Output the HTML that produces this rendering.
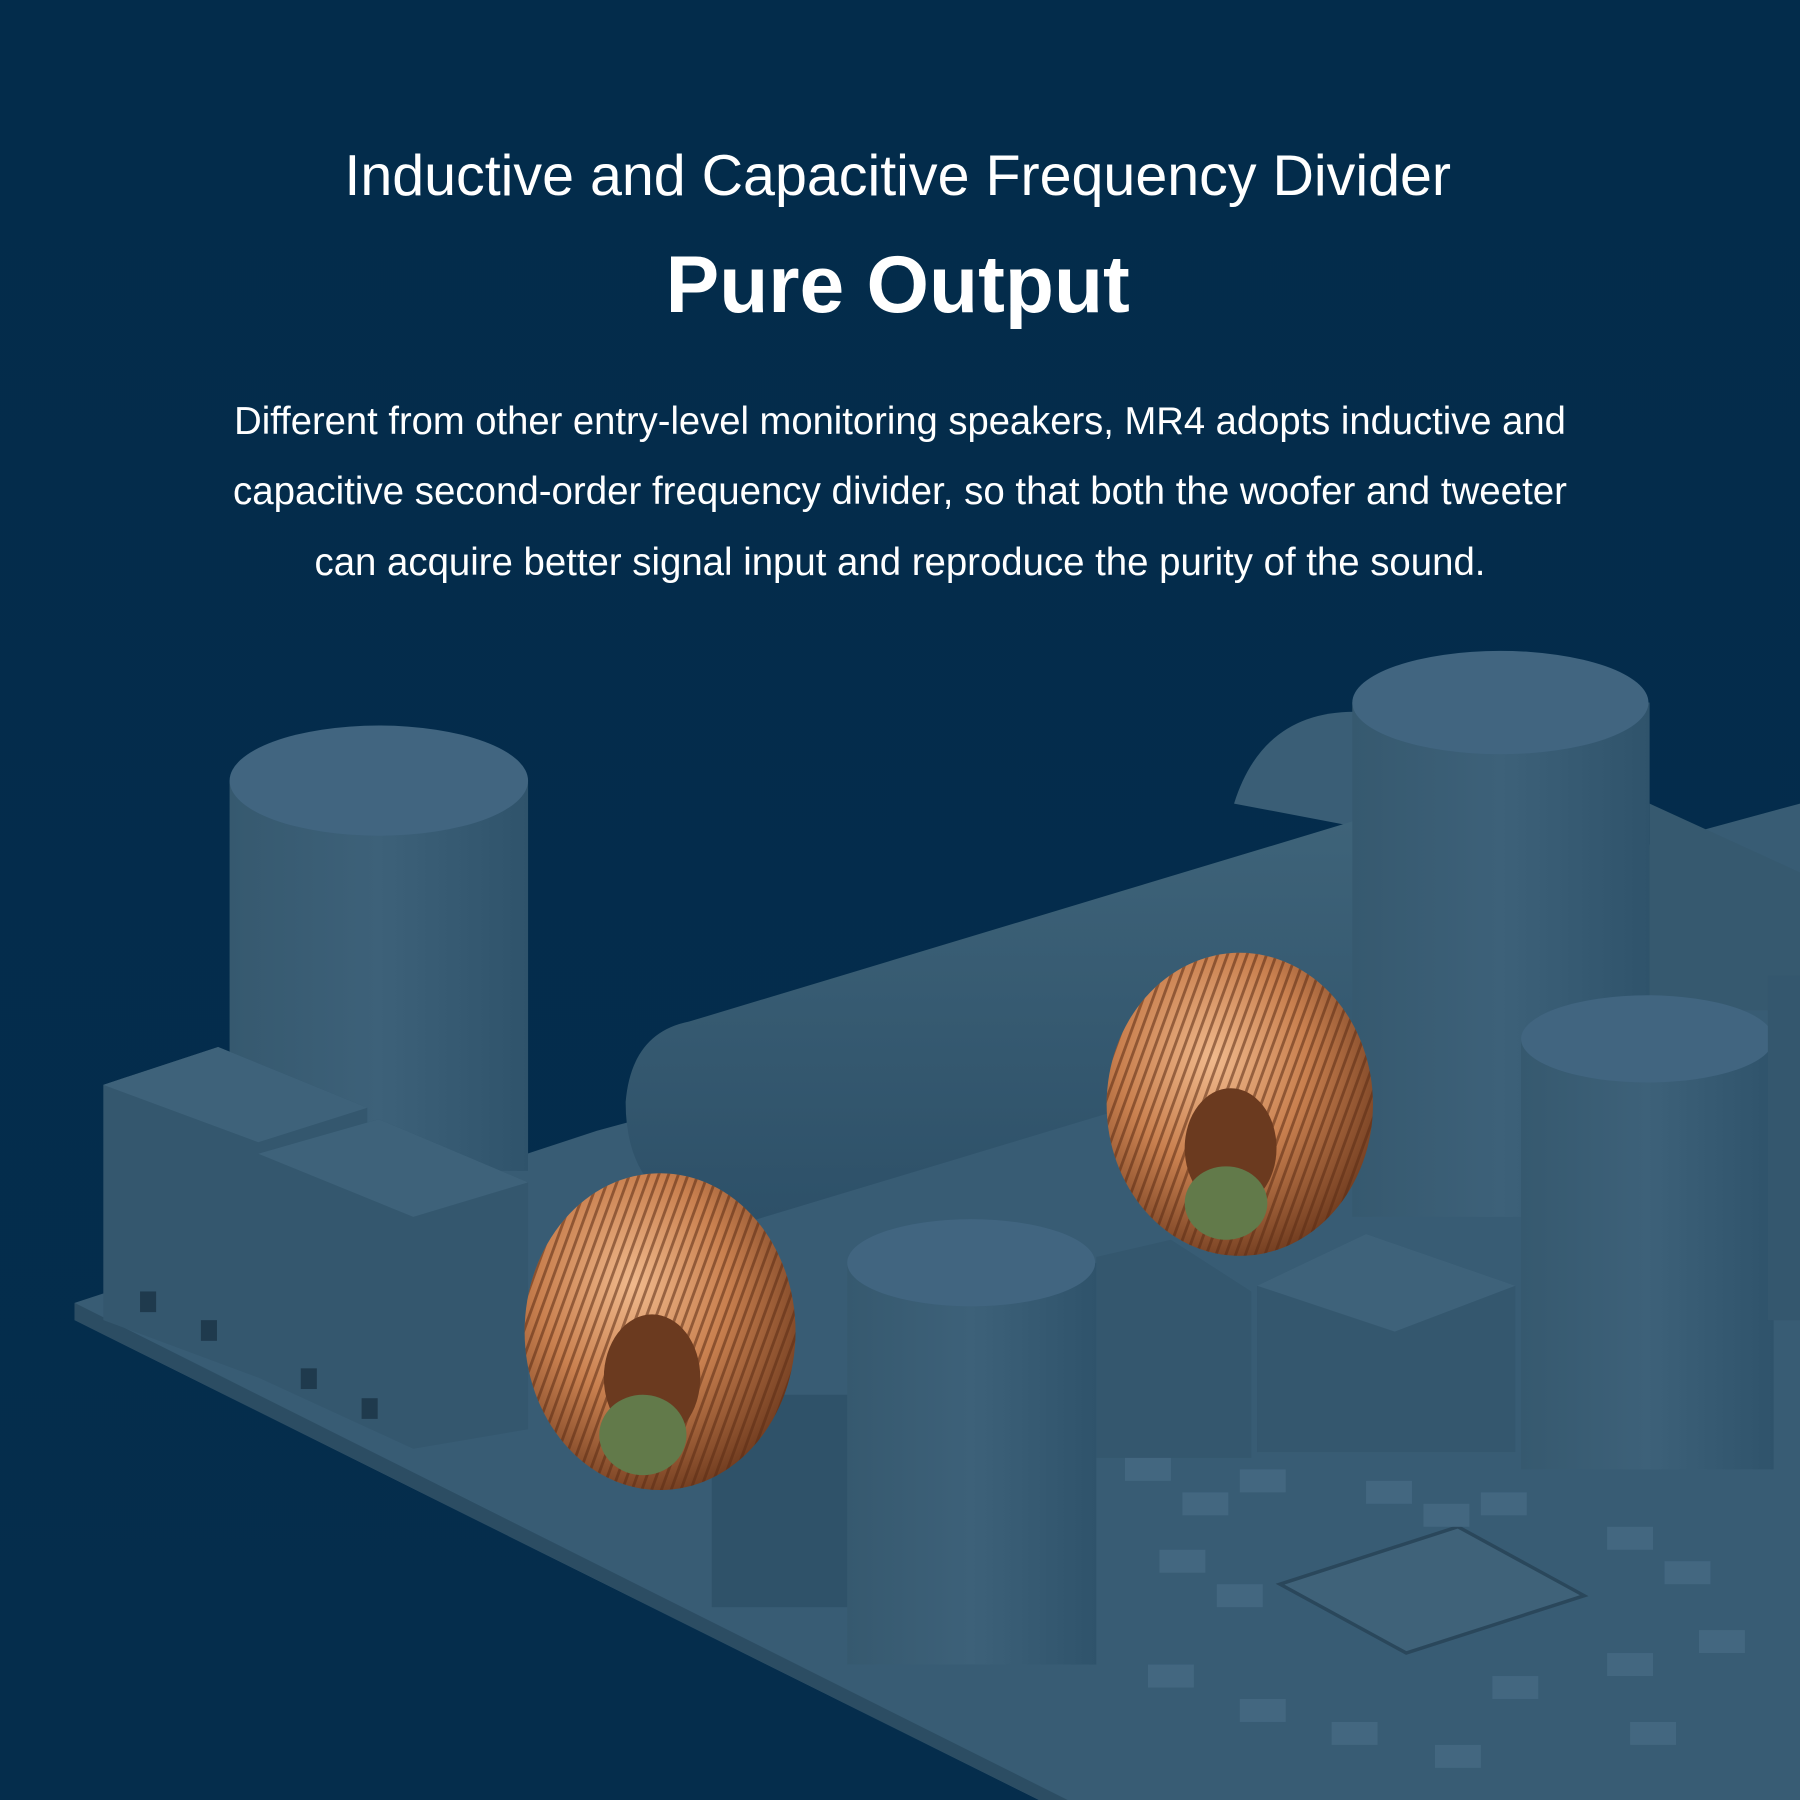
<!DOCTYPE html>
<html><head><meta charset="utf-8"><style>
html,body{margin:0;padding:0;background:#032c4b;}
svg{display:block}
</style></head><body>
<svg width="1800" height="1800" viewBox="0 0 1568 1568" xmlns="http://www.w3.org/2000/svg">
<defs>
<linearGradient id="bg" x1="0" y1="0" x2="0" y2="1">
<stop offset="0" stop-color="#032c4b"/><stop offset="1" stop-color="#052d4c"/></linearGradient>
<linearGradient id="cyl" x1="0" y1="0" x2="1" y2="0">
<stop offset="0" stop-color="#36596f"/><stop offset="0.5" stop-color="#3d6179"/><stop offset="1" stop-color="#2f536b"/></linearGradient>
<linearGradient id="hc" x1="0" y1="0" x2="0" y2="1">
<stop offset="0" stop-color="#3e6379"/><stop offset="1" stop-color="#2d5068"/></linearGradient>
<radialGradient id="cu" cx="0.4" cy="0.35" r="0.7">
<stop offset="0" stop-color="#f0b98c"/><stop offset="0.5" stop-color="#c9804f"/><stop offset="1" stop-color="#6e3a1e"/></radialGradient>
<pattern id="wind" width="8" height="8" patternUnits="userSpaceOnUse" patternTransform="rotate(20)">
<rect width="8" height="8" fill="none"/><rect width="2.5" height="8" fill="#5a2c14" opacity="0.55"/></pattern>
</defs>
<rect width="1568" height="1568" fill="url(#bg)"/>
<!-- board -->
<polygon points="65,1135 520,985 1568,700 1568,1568 905,1568 65,1150" fill="#385c74"/>
<polygon points="65,1135 65,1150 905,1568 930,1568" fill="#2c4d63"/>
<!-- horizontal cylinder and back parts -->
<path d="M1075,700 Q1100,620 1180,620 L1180,720 Z" fill="#3a5e76"/>
<path d="M1437,700 L1568,760 L1568,880 L1437,880 Z" fill="#36596f"/>
<path d="M600,890 L1180,715 L1180,905 L650,1065 Q545,1060 545,960 Q550,900 600,890 Z" fill="url(#hc)"/>
<!-- left big cylinder -->
<rect x="200" y="680" width="260" height="340" fill="url(#cyl)"/>
<ellipse cx="330" cy="680" rx="130" ry="48" fill="#416580"/>
<!-- right big cylinder -->
<rect x="1178" y="612" width="259" height="448" fill="url(#cyl)"/>
<ellipse cx="1307" cy="612" rx="129" ry="45" fill="#416580"/>
<!-- connectors -->
<polygon points="90,945 190,912 320,965 320,1190 225,1200 90,1150" fill="#34576e"/>
<polygon points="90,945 190,912 320,965 225,995" fill="#3e627a"/>
<polygon points="225,1005 330,975 460,1030 460,1245 360,1262 225,1200" fill="#34576e"/>
<polygon points="225,1005 330,975 460,1030 360,1060" fill="#3e627a"/>
<g fill="#1f3a4d"><rect x="122" y="1125" width="14" height="18"/><rect x="175" y="1150" width="14" height="18"/><rect x="262" y="1192" width="14" height="18"/><rect x="315" y="1218" width="14" height="18"/></g>
<!-- blocks -->
<polygon points="955,1095 1020,1080 1090,1125 1090,1270 955,1270" fill="#34576e"/>
<polygon points="1095,1120 1190,1075 1320,1120 1320,1265 1095,1265" fill="#34576e"/>
<polygon points="1095,1120 1190,1075 1320,1120 1215,1160" fill="#3e627a"/>
<!-- right lower cylinder -->
<rect x="1325" y="905" width="220" height="375" fill="url(#cyl)"/>
<ellipse cx="1435" cy="905" rx="110" ry="38" fill="#416580"/>
<rect x="1540" y="850" width="28" height="300" fill="#34576e"/>
<!-- lower middle block & cylinder -->
<rect x="620" y="1215" width="120" height="185" fill="#2f5269"/>
<rect x="738" y="1100" width="217" height="350" fill="url(#cyl)"/>
<ellipse cx="846" cy="1100" rx="108" ry="38" fill="#416580"/>
<!-- chip and smd -->
<polygon points="1115,1380 1270,1330 1380,1390 1225,1440" fill="#3f6279" stroke="#2a475b" stroke-width="3"/>
<g fill="#436780">
<rect x="980" y="1270" width="40" height="20"/><rect x="1030" y="1300" width="40" height="20"/><rect x="1080" y="1280" width="40" height="20"/>
<rect x="1190" y="1290" width="40" height="20"/><rect x="1240" y="1310" width="40" height="20"/><rect x="1290" y="1300" width="40" height="20"/>
<rect x="1010" y="1350" width="40" height="20"/><rect x="1060" y="1380" width="40" height="20"/><rect x="1400" y="1330" width="40" height="20"/>
<rect x="1450" y="1360" width="40" height="20"/><rect x="1000" y="1450" width="40" height="20"/><rect x="1080" y="1480" width="40" height="20"/>
<rect x="1160" y="1500" width="40" height="20"/><rect x="1300" y="1460" width="40" height="20"/><rect x="1400" y="1440" width="40" height="20"/>
<rect x="1480" y="1420" width="40" height="20"/><rect x="1250" y="1520" width="40" height="20"/><rect x="1420" y="1500" width="40" height="20"/>
</g>
<!-- coils -->
<g>
<ellipse cx="575" cy="1160" rx="118" ry="138" fill="url(#cu)"/>
<ellipse cx="575" cy="1160" rx="118" ry="138" fill="url(#wind)"/>
<ellipse cx="568" cy="1200" rx="42" ry="55" fill="#6b3a1f"/>
<ellipse cx="560" cy="1250" rx="38" ry="35" fill="#627a4a"/>
</g>
<g>
<ellipse cx="1080" cy="962" rx="116" ry="132" fill="url(#cu)"/>
<ellipse cx="1080" cy="962" rx="116" ry="132" fill="url(#wind)"/>
<ellipse cx="1072" cy="1000" rx="40" ry="52" fill="#6b3a1f"/>
<ellipse cx="1068" cy="1048" rx="36" ry="32" fill="#627a4a"/>
</g>
<!-- text -->
<g fill="#ffffff" text-anchor="middle" font-family="'Liberation Sans',sans-serif">
<text x="782" y="170" font-size="50">Inductive and Capacitive Frequency Divider</text>
<text x="782" y="272" font-size="70" font-weight="bold">Pure Output</text>
<g font-size="34">
<text x="784" y="378" textLength="1160" lengthAdjust="spacingAndGlyphs">Different from other entry-level monitoring speakers, MR4 adopts inductive and</text>
<text x="784" y="439" textLength="1162" lengthAdjust="spacingAndGlyphs">capacitive second-order frequency divider, so that both the woofer and tweeter</text>
<text x="784" y="501" textLength="1020" lengthAdjust="spacingAndGlyphs">can acquire better signal input and reproduce the purity of the sound.</text>
</g></g>
</svg>
</body></html>
